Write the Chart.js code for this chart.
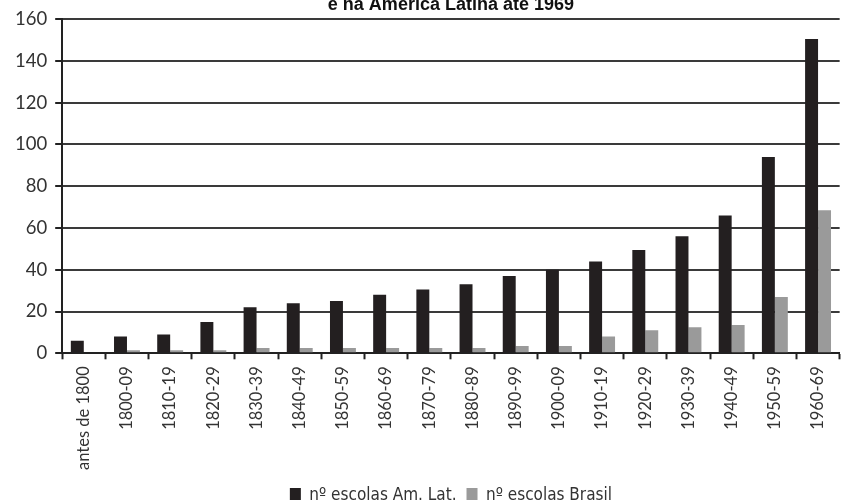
<!DOCTYPE html>
<html>
<head>
<meta charset="utf-8">
<script src="https://cdn.jsdelivr.net/npm/chart.js@4"></script>
<style>
  html, body { margin: 0; padding: 0; background: #fff; }
  #wrap { width: 845px; height: 500px; position: relative; }
</style>
</head>
<body>
<div id="wrap"><canvas id="myChart" width="845" height="500"></canvas></div>
<script>
// periodos
let periodos = ['antes de 1800', '1800-09', '1810-19', '1820-29', '1830-39', '1840-49',
    '1850-59', '1860-69', '1870-79', '1880-89', '1890-99', '1900-09', '1910-19',
    '1920-29', '1930-39', '1940-49', '1950-59', '1960-69'];
// nº escolas Am. Lat.
let escolasAmLat = [6, 8, 9, 15, 22, 24, 25, 28, 30.5, 33, 37, 40, 44, 49.5, 56, 66, 94, 150.5];
// nº escolas Brasil
let escolasBrasil = [0, 1.5, 1.5, 1.5, 2.5, 2.5, 2.5, 2.5, 2.5, 2.5, 3.5, 3.5, 8, 11, 12.5, 13.5, 27, 68.5];
let yTicks = [0, 20, 40, 60, 80, 100, 120, 140, 160];

const ctx = document.getElementById('myChart').getContext('2d');
const myChart = new Chart(ctx, {
    type: 'bar',
    data: {
        labels: periodos,
        datasets: [{
            label: 'nº escolas Am. Lat.',
            data: escolasAmLat,
            backgroundColor: '#231f20',
            borderWidth: 0
        }, {
            label: 'nº escolas Brasil',
            data: escolasBrasil,
            backgroundColor: '#9a9a9a',
            borderWidth: 0
        }]
    },
    options: {
        responsive: false,
        animation: false,
        datasets: {
            bar: { barPercentage: 1, categoryPercentage: 0.6 }
        },
        layout: { padding: { left: 7, right: 0, top: 0, bottom: -14 } },
        plugins: {
            title: {
                display: true,
                text: 'e na América Latina até 1969',
                fullSize: false,
                color: '#111',
                font: { family: 'Liberation Sans', size: 18, weight: 'bold' },
                padding: { top: -8, bottom: 3 }
            },
            legend: {
                position: 'bottom',
                fullSize: false,
                labels: {
                    color: '#333',
                    boxWidth: 11,
                    boxHeight: 15,
                    padding: 10,
                    font: { family: '"DejaVu Sans Condensed", "Liberation Sans"', size: 17 }
                }
            },
            tooltip: { enabled: false }
        },
        scales: {
            x: {
                grid: {
                    display: true,
                    drawOnChartArea: false,
                    drawTicks: true,
                    tickLength: 6,
                    tickColor: '#222',
                    tickWidth: 2,
                    offset: true
                },
                border: { display: true, color: '#222', width: 2 },
                ticks: {
                    minRotation: 90,
                    maxRotation: 90,
                    autoSkip: false,
                    color: '#333',
                    padding: 7,
                    font: { family: 'Lato', size: 16.5 }
                }
            },
            y: {
                min: 0,
                max: 160,
                afterBuildTicks: axis => {
                    axis.ticks = yTicks.map(v => ({ value: v }));
                },
                grid: {
                    color: '#3a3a3a',
                    lineWidth: 2,
                    drawTicks: true,
                    tickLength: 7,
                    tickColor: '#222'
                },
                border: { display: true, color: '#222', width: 2 },
                ticks: {
                    color: '#333',
                    padding: 8,
                    font: { family: 'Lato', size: 18.5 }
                }
            }
        }
    }
});
</script>
</body>
</html>
